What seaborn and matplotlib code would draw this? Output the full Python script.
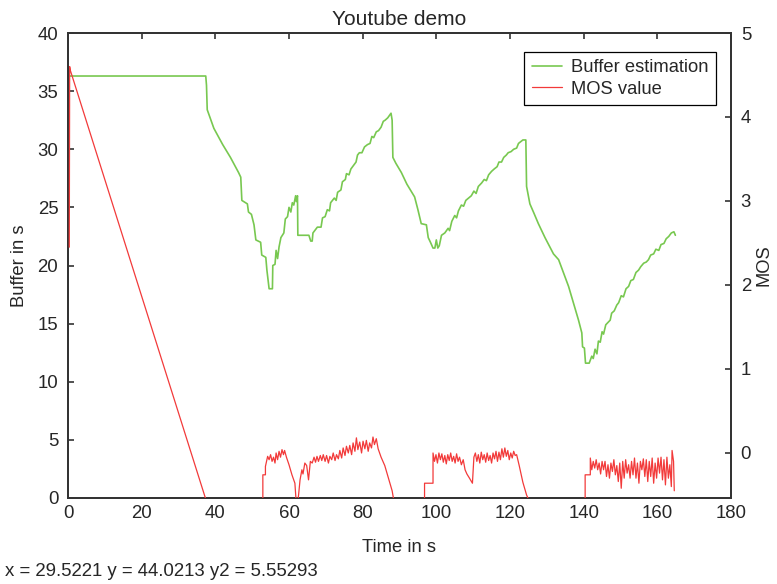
import numpy as np
import pandas as pd
import matplotlib
matplotlib.use("Agg")
import matplotlib.pyplot as plt
import seaborn as sns
from matplotlib.lines import Line2D

# ---------------- data ----------------
buffer_t = [0, 37.4, 37.6, 37.8, 39.6, 42, 44.1, 46.3, 46.9, 47.2, 48.7, 49.0, 49.8, 50.5, 51.0, 52.3,
            52.6, 53.7, 54.0, 54.6, 55.5, 55.6, 56.2, 56.5, 56.9, 57.3, 57.8, 58.6, 59.0, 59.6, 60.0,
            60.5, 60.9, 61.3, 61.8, 62.0, 62.3, 62.4, 65.4, 65.9, 66.3, 66.5, 67.7, 68.7, 69.1, 69.8,
            70.4, 71.0, 71.3, 72.3, 72.8, 73.2, 74.1, 74.5, 75.3, 75.6, 76.3, 76.8, 77.5, 78.2, 78.6,
            79.1, 79.8, 80.5, 81.3, 82.0, 82.5, 83.0, 83.7, 84.3, 85.0, 85.6, 86.1, 86.8, 87.7, 88.0,
            88.2, 89.0, 90.5, 92, 94.1, 95.0, 95.9, 97.3, 97.8, 98.4, 99.1, 99.6, 100.0, 100.4, 100.8,
            101.4, 102.3, 103.2, 103.6, 104.2, 105.0, 105.5, 106.0, 106.8, 107.4, 108.0, 109.5, 110.2,
            110.8, 111.4, 112.3, 113.0, 113.6, 114.2, 115.0, 115.7, 116.5, 117.0, 117.7, 118.3, 119.0,
            119.5, 120.3, 121.0, 121.8, 122.3, 122.7, 123.5, 124.3, 124.5, 125.4, 126.5, 127.7, 129.5,
            131.8, 133.2, 134.5, 135.9, 137.2, 138.6, 139.5, 139.7, 140.2, 140.5, 141.5, 142.2, 142.6,
            143.1, 143.6, 144.0, 144.5, 145.0, 145.4, 146.0, 147.2, 147.6, 148.3, 149.0, 149.5, 150.2,
            150.8, 151.5, 152.2, 152.8, 153.5, 154.2, 154.9, 155.5, 156.3, 157.0, 157.6, 158.2, 159.0,
            159.6, 160.4, 161.0, 161.8, 162.4, 163.1, 163.8, 164.5, 164.9]
buffer_s = [36.3, 36.3, 35.5, 33.4, 31.8, 30.4, 29.3, 28.0, 27.6, 25.6, 25.3, 24.6, 24.4, 23.5, 22.2, 22.0,
            20.9, 20.7, 19.6, 18.0, 18.0, 20.0, 20.1, 21.3, 20.6, 21.6, 22.4, 22.8, 24.0, 24.2, 25.0,
            24.6, 25.4, 25.2, 26.0, 25.5, 26.0, 22.6, 22.6, 22.1, 22.1, 22.8, 23.3, 23.3, 24.1, 24.2,
            24.8, 24.7, 25.4, 25.8, 25.6, 26.3, 26.5, 27.2, 27.4, 27.9, 27.8, 28.3, 28.6, 28.9, 29.5,
            29.7, 29.7, 30.2, 30.4, 30.5, 31.1, 31.0, 31.5, 31.6, 31.9, 32.4, 32.5, 32.7, 33.1, 32.5,
            29.3, 28.8, 28.0, 27.0, 25.9, 24.8, 23.6, 23.5, 22.4, 22.0, 21.5, 21.5, 22.2, 21.5, 21.7,
            22.6, 22.8, 23.2, 23.0, 23.8, 24.3, 24.1, 24.7, 25.2, 25.1, 25.6, 26.0, 26.4,
            26.2, 26.8, 27.1, 27.4, 27.3, 27.8, 28.1, 28.3, 28.5, 28.9, 28.9, 29.3, 29.5,
            29.7, 29.8, 30.0, 30.1, 30.5, 30.6, 30.8, 30.8, 26.8, 25.3, 24.5, 23.6, 22.4,
            21.0, 20.5, 19.4, 18.2, 16.8, 15.3, 14.2, 13.0, 12.9, 11.6, 11.6, 12.2, 12.0,
            12.8, 12.4, 13.5, 13.4, 14.3, 14.1, 14.9, 15.3, 15.9, 16.1, 16.6, 16.8, 17.4,
            17.3, 18.0, 18.2, 18.7, 18.8, 19.4, 19.6, 19.9, 20.2, 20.3, 20.5, 20.9, 21.0,
            21.4, 21.3, 21.8, 21.9, 22.3, 22.5, 22.8, 22.9, 22.6]

mos_t = [0.35, 0.45, 0.6, 37.4, 52.9, 52.9, 53.6, 53.6, 54.2,
         54.6, 55.0, 55.4, 55.8, 56.2, 56.5, 56.9, 57.3, 57.7, 58.1, 58.5, 58.8, 59.3, 60.0, 60.8,
         61.6, 61.9, 62.3, 62.6, 63.0, 63.5, 63.8, 64.3, 64.8, 65.3, 65.8, 66.3, 66.8, 67.2, 67.6,
         68.0, 68.5, 68.9, 69.3, 69.8, 70.2, 70.7, 71.1, 71.6, 72.0, 72.5, 72.9, 73.4, 73.8, 74.3,
         74.7, 75.2, 75.6, 76.1, 76.5, 77.0, 77.4, 77.9, 78.3, 78.7, 79.2, 79.7, 80.1, 80.6, 81.0,
         81.5, 81.9, 82.4, 82.8, 83.2, 83.7, 84.2, 85.0, 86.0, 87.0, 88.0, 88.4, 90, 96.8, 96.8,
         99.1, 99.1,
         99.5, 99.9, 100.3, 100.7, 101.1, 101.5, 101.9, 102.3, 102.7, 103.1, 103.5, 103.9, 104.3,
         104.7, 105.1, 105.5, 105.9, 106.3, 106.8, 107.3, 107.8, 108.3, 109.0, 109.8, 110.2, 110.6,
         111.0, 111.4, 111.8, 112.2, 112.6, 113.0, 113.4, 113.8, 114.2, 114.6, 115.0, 115.4, 115.8,
         116.2, 116.6, 117.0, 117.4, 117.8, 118.2, 118.6, 119.0, 119.4, 119.8, 120.2, 120.6, 121.0,
         121.4, 121.8, 122.5, 123.5, 124.5, 125.0, 126, 140.4, 140.4, 141.8, 141.8,
         142.2, 142.6, 143.0, 143.4, 143.8, 144.2, 144.6, 145.0, 145.4, 145.8, 146.2, 146.6, 147.0,
         147.4, 147.8, 148.2, 148.6, 149.0, 149.4, 149.8, 150.2, 150.6, 151.0, 151.4, 151.8, 152.2,
         152.6, 153.0, 153.4, 153.8, 154.2, 154.6, 155.0, 155.4, 155.8, 156.2, 156.6, 157.0, 157.4,
         157.8, 158.2, 158.6, 159.0, 159.4, 159.8, 160.2, 160.6, 161.0, 161.4, 161.8, 162.2, 162.6,
         163.0, 163.4, 163.8, 164.0, 164.4, 164.6]
mos_v = [2.45, 4.6, 4.56, -0.55, -0.6, -0.26, -0.26, -0.16, -0.04,
         -0.08, -0.02, -0.1, -0.05, -0.12, 0.0, -0.08, 0.02, -0.05, 0.04, -0.02, 0.03, -0.05, -0.14, -0.26,
         -0.36, -0.55, -0.6, -0.5, -0.32, -0.2, -0.25, -0.12, -0.15, -0.32, -0.1, -0.12, -0.05, -0.11, -0.04,
         -0.1, -0.03, -0.09, -0.02, -0.1, -0.03, -0.12, -0.04, -0.08, 0.0, -0.09, -0.02, -0.07, 0.03, -0.06,
         0.06, -0.03, 0.08, 0.0, 0.09, -0.02, 0.12, 0.02, 0.18, 0.04, 0.13, 0.0, 0.14, 0.05, 0.15,
         0.02, 0.12, 0.06, 0.19, 0.1, 0.17, 0.05, -0.05, -0.15, -0.3, -0.45, -0.55, -0.6, -0.6, -0.36,
         -0.36, 0.0,
         -0.1, -0.02, -0.12, 0.0, -0.08, -0.01, -0.11, -0.03, -0.13, -0.02, -0.09, 0.0, -0.1,
         -0.04, -0.12, -0.01, -0.1, -0.05, -0.14, -0.08, -0.2, -0.25, -0.3, -0.36, -0.05, 0.0,
         -0.1, -0.02, -0.12, 0.01, -0.08, -0.02, -0.11, 0.0, -0.09, -0.03, -0.12, 0.0, -0.07,
         0.02, -0.1, 0.01, -0.08, 0.05, -0.05, 0.06, -0.04, 0.03, -0.08, 0.0, -0.06, 0.02,
         -0.03, -0.02, -0.15, -0.35, -0.5, -0.55, -0.6, -0.6, -0.26, -0.26, -0.06,
         -0.2, -0.1, -0.18, -0.08, -0.2, -0.12, -0.25, -0.1, -0.2, -0.1, -0.28, -0.14, -0.3,
         -0.12, -0.22, -0.08, -0.26, -0.15, -0.34, -0.12, -0.42, -0.1, -0.3, -0.08, -0.24, -0.14,
         -0.3, -0.1, -0.26, -0.06, -0.3, -0.12, -0.36, -0.1, -0.2, -0.07, -0.28, -0.08, -0.34,
         -0.1, -0.28, -0.06, -0.36, -0.12, -0.3, -0.06, -0.24, -0.05, -0.32, -0.08, -0.38, -0.05,
         -0.3, -0.14, -0.4, 0.03, -0.1, -0.45]

x_ticks = [0, 20, 40, 60, 80, 100, 120, 140, 160, 180]
y1_ticks = [0, 5, 10, 15, 20, 25, 30, 35, 40]
y2_ticks = [0, 1, 2, 3, 4, 5]

GREEN = "#78c850"
RED = "#f23a3a"
EDGE = "#333333"
FS = 13.4

# ---------------- styling ----------------
sns.set_style("white")
plt.rcParams["font.family"] = ["Liberation Sans", "DejaVu Sans"]
plt.rcParams["font.size"] = FS

fig = plt.figure(figsize=(7.77, 5.84), dpi=100)
ax1 = fig.add_axes([68 / 777, 1 - 498 / 584, (731 - 68) / 777, (498 - 33) / 584])
ax2 = ax1.twinx()

df_buf = pd.DataFrame({"t": buffer_t, "b": buffer_s})
df_mos = pd.DataFrame({"t": mos_t, "m": mos_v})

sns.lineplot(data=df_buf, x="t", y="b", ax=ax1, color=GREEN, lw=1.2,
             sort=False, estimator=None, legend=False)
sns.lineplot(data=df_mos, x="t", y="m", ax=ax2, color=RED, lw=0.9,
             sort=False, estimator=None, legend=False)
for ln in ax2.get_lines():
    ln.set_zorder(4)

ax1.set_xlim(0, 180)
ax1.set_ylim(0, 40)
ax2.set_ylim(-0.536, 5)
ax1.set_xticks(x_ticks)
ax1.set_yticks(y1_ticks)
ax2.set_yticks(y2_ticks)

for ax in (ax1, ax2):
    for sp in ax.spines.values():
        sp.set_visible(True)
        sp.set_color(EDGE)
        sp.set_linewidth(1.3)
    ax.grid(False)

ax1.tick_params(axis="both", direction="in", length=4, width=1.2, color=EDGE,
                labelsize=FS, top=True, right=False)
ax1.tick_params(axis="y", pad=7)
ax1.tick_params(axis="x", pad=5)
ax2.tick_params(axis="y", direction="in", length=4, width=1.2, color=EDGE,
                labelsize=FS, pad=7, left=False, right=True)

ax1.set_xlabel("Time in s", fontsize=13.2, labelpad=12)
ax1.set_ylabel("Buffer in s", fontsize=13.2, labelpad=7)
ax2.set_ylabel("MOS", fontsize=13.2, labelpad=3)
ax1.set_title("Youtube demo", fontsize=15, pad=6)

handles = [Line2D([], [], color=GREEN, lw=1.2), Line2D([], [], color=RED, lw=0.9)]
leg = ax2.legend(handles, ["Buffer estimation", "MOS value"], loc="upper right",
                 bbox_to_anchor=(716 / 777, 1 - 52 / 584), bbox_transform=fig.transFigure,
                 frameon=True, fancybox=False, shadow=False, fontsize=13.2,
                 handlelength=1.65, handletextpad=0.5, borderpad=0.4, labelspacing=0.25,
                 borderaxespad=0)
leg.get_frame().set_edgecolor("black")
leg.get_frame().set_linewidth(0.9)
leg.get_frame().set_alpha(1)

fig.text(5 / 777, 1 - 572 / 584, "x = 29.5221 y = 44.0213 y2 = 5.55293",
         fontsize=FS, va="center", ha="left")

fig.savefig("out.png", dpi=100)
